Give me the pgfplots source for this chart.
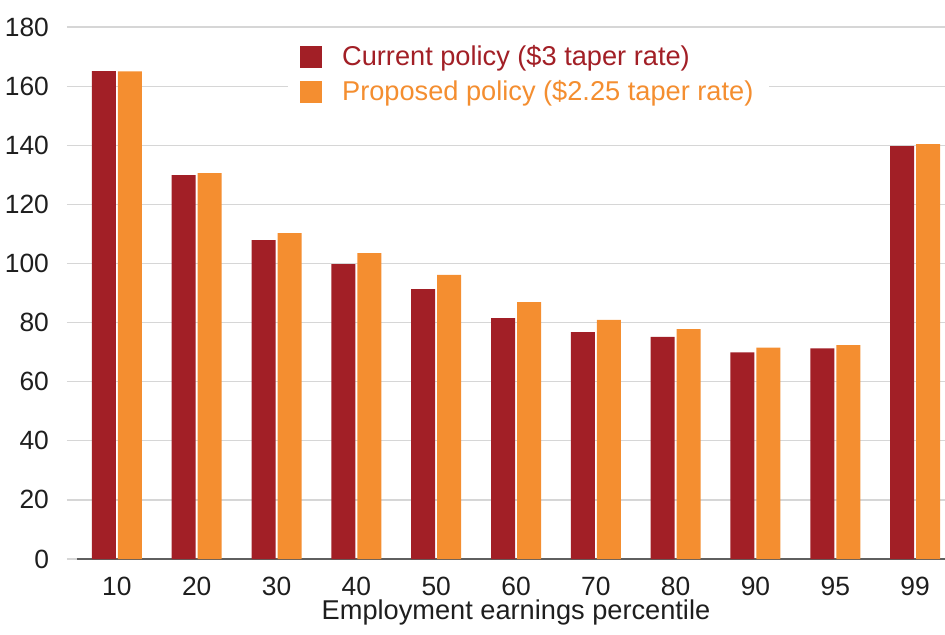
\documentclass[border=0pt]{standalone}
\usepackage{pgfplots}
\pgfplotsset{compat=1.18}
\usepackage{fontspec}
\setmainfont{Liberation Sans}

\definecolor{curred}{RGB}{162,31,38}
\definecolor{proporange}{RGB}{244,142,48}
\definecolor{gridgray}{RGB}{214,214,214}
\definecolor{axisgray}{RGB}{95,95,95}
\definecolor{textdark}{RGB}{30,30,30}

\begin{document}
\begin{tikzpicture}
\begin{axis}[
  name=ax,
  at={(0,0)}, anchor=south west,
  scale only axis,
  width=439pt, height=266pt,
  ybar=1pt,
  bar width=12pt,
  xmin=-0.5, xmax=10.5,
  ymin=0, ymax=180,
  xtick=data,
  xticklabels={10,20,30,40,50,60,70,80,90,95,99},
  ytick={0,20,...,180},
  axis lines*=left,
  y axis line style={draw=none},
  x axis line style={draw=axisgray, line width=0.8pt},
  xtick style={draw=none},
  ytick style={draw=gridgray, line width=0.6pt},
  tick align=outside,
  major tick length=5pt,
  ymajorgrids,
  grid style={draw=gridgray, line width=0.6pt},
  tick label style={font=\fontsize{13.2}{15}\selectfont, text=textdark},
  /pgf/number format/assume math mode=true,
  xticklabel style={yshift=-0.5pt},
  yticklabel style={xshift=-5.5pt},
  xlabel={Employment earnings percentile},
  xlabel style={font=\fontsize{13.6}{16}\selectfont, text=textdark,
    inner ysep=1pt, yshift=2.5pt},
  legend style={at={(0.24,0.985)}, anchor=north west, draw=none, fill=white,
    font=\fontsize{13.6}{16}\selectfont, row sep=2pt,
    inner xsep=6pt, inner ysep=3pt},
  legend cell align=left,
  legend image code/.code={%
    \fill[#1] (0pt,-5.5pt) rectangle (11pt,5.5pt);
    \path (19pt,0pt);},
]
\addplot[fill=curred, draw=none] coordinates {
  (0,165.1) (1,129.9) (2,107.9) (3,99.8) (4,91.3) (5,81.5)
  (6,76.8) (7,75.2) (8,69.9) (9,71.3) (10,139.7)};
\addlegendentry{\textcolor{curred}{Current policy (\$3 taper rate)}}
\addplot[fill=proporange, draw=none] coordinates {
  (0,165.0) (1,130.6) (2,110.3) (3,103.5) (4,96.1) (5,86.9)
  (6,80.9) (7,77.8) (8,71.5) (9,72.4) (10,140.4)};
\addlegendentry{\textcolor{proporange}{Proposed policy (\$2.25 taper rate)}}
\end{axis}
\pgfresetboundingbox
\path[use as bounding box] ([xshift=-38.5pt,yshift=-37.5pt]ax.south west)
  rectangle ([xshift=434pt,yshift=279.5pt]ax.south west);
\end{tikzpicture}
\end{document}
